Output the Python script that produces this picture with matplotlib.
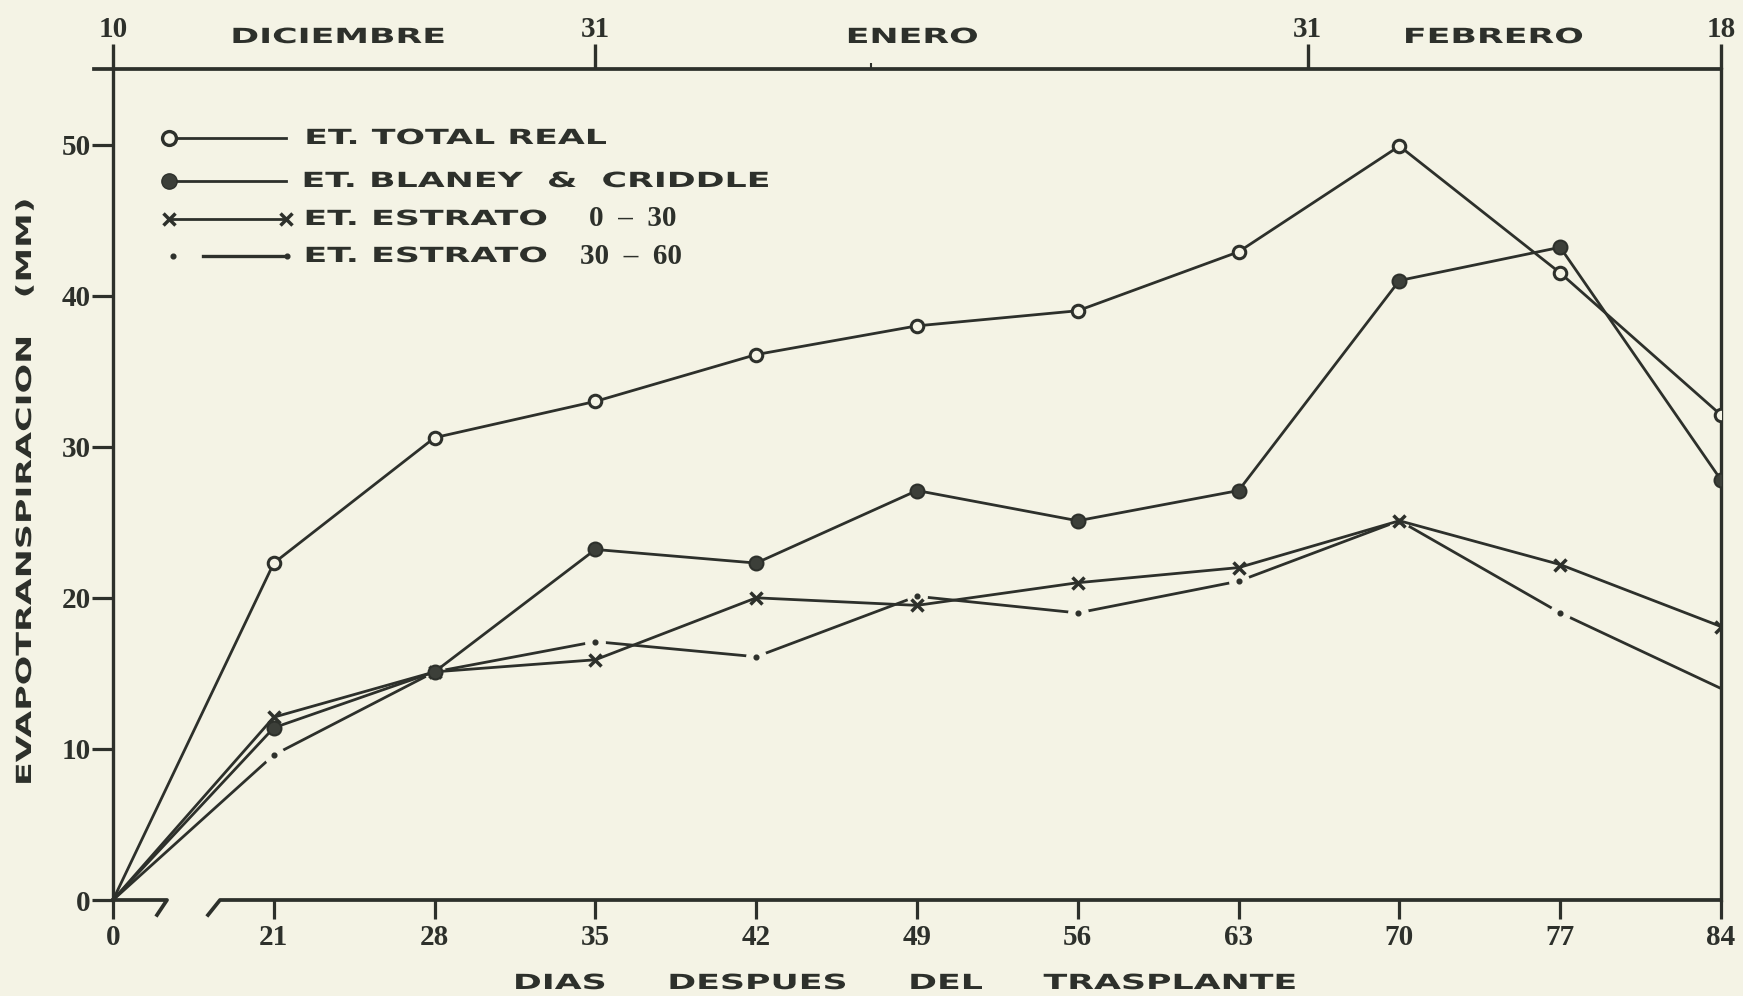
import matplotlib
matplotlib.use("Agg")
import matplotlib.pyplot as plt
from matplotlib import patheffects
from matplotlib.transforms import Affine2D
from matplotlib.lines import Line2D

# ---- data -------------------------------------------------------------
dias = [0, 21, 28, 35, 42, 49, 56, 63, 70, 77, 84]
et_total_real = [0, 22.3, 30.6, 33.0, 36.1, 38.0, 39.0, 42.9, 49.9, 41.5, 32.1]
et_blaney_criddle = [0, 11.4, 15.1, 23.2, 22.3, 27.1, 25.1, 27.1, 41.0, 43.2, 27.8]
et_estrato_0_30 = [0, 12.1, 15.1, 15.9, 20.0, 19.5, 21.0, 22.0, 25.1, 22.2, 18.1]
et_estrato_30_60 = [0, 9.6, 15.1, 17.1, 16.1, 20.1, 19.0, 21.1, 25.1, 19.0, 14.0]
y_ticks = [0, 10, 20, 30, 40, 50]

# calendar axis: days counted from 10 December
fecha_dias = [0, 21, 52, 70]
fecha_labels = ["10", "31", "31", "18"]
meses = ["DICIEMBRE", "ENERO", "FEBRERO"]
meses_pos = [9.8, 34.8, 60.1]

W, H = 1743, 996
BG = "#f4f3e5"
INK = "#2d302b"
SANS = "DejaVu Sans"
SERIF = "Liberation Serif"


class HStretch(patheffects.AbstractPathEffect):
    """Widen glyphs along the baseline, about the centre of the string."""

    def __init__(self, sx):
        super().__init__()
        self.sx = sx

    def draw_path(self, renderer, gc, tpath, affine, rgbFace=None):
        ext = tpath.get_extents()
        cx = 0.5 * (ext.x0 + ext.x1)
        t = Affine2D().translate(-cx, 0).scale(self.sx, 1).translate(cx, 0) + affine
        renderer.draw_path(gc, tpath, t, rgbFace)


WIDE = [HStretch(1.67)]
SANS_SIZE = 15
NUM_SIZE = 21

fig = plt.figure(figsize=(W / 100, H / 100), dpi=100)
fig.patch.set_facecolor(BG)

ax = fig.add_axes([113 / W, 1 - 900 / H, 1608 / W, 831 / H])
ax.set_facecolor(BG)
x = list(range(len(dias)))
ax.set_xlim(0, len(dias) - 1)
ax.set_ylim(0, 55)

# series
ax.plot(x, et_estrato_30_60, color=INK, lw=2.0, zorder=2, solid_capstyle="butt")
ax.plot(x[1:-1], et_estrato_30_60[1:-1], ls="none", marker="o", ms=15,
        mfc=BG, mec="none", zorder=2.1)
ax.plot(x[1:-1], et_estrato_30_60[1:-1], ls="none", marker="o", ms=3.4,
        color=INK, zorder=2.2)
ax.plot(x, et_estrato_0_30, color=INK, lw=2.0, marker="x", ms=9, mew=2.5,
        markevery=list(range(1, len(x))), zorder=3)
ax.plot(x, et_blaney_criddle, color=INK, lw=2.0, marker="o", ms=10,
        mfc="#3c3f39", mec=INK, mew=1.5, markevery=list(range(1, len(x))), zorder=4)
ax.plot(x, et_total_real, color=INK, lw=2.0, marker="o", ms=9,
        mfc=BG, mec=INK, mew=2.2, markevery=list(range(1, len(x))), zorder=5)

# axes frame
for s in ("top", "bottom"):
    ax.spines[s].set_visible(False)
for s in ("left", "right"):
    ax.spines[s].set_linewidth(2.4)
    ax.spines[s].set_color(INK)

tr = ax.transAxes
px_x, px_y = 1 / 1608, 1 / 831
# top rule, running a little past the left axis
ax.add_line(Line2D([-19 * px_x, 1], [1, 1], transform=tr, color=INK, lw=2.7,
                   clip_on=False, zorder=6))
# broken bottom rule
b1 = (167 - 113) * px_x
b2 = (220 - 113) * px_x
ax.add_line(Line2D([0, b1, b1 - 10 * px_x], [0, 0, -15 * px_y], transform=tr,
                   color=INK, lw=2.7, clip_on=False, zorder=6))
ax.add_line(Line2D([b2 - 12 * px_x, b2, 1], [-15 * px_y, 0, 0], transform=tr,
                   color=INK, lw=2.7, clip_on=False, zorder=6))

ax.set_xticks(x, [str(d) for d in dias])
ax.set_yticks(y_ticks, [str(v) for v in y_ticks])
ax.tick_params(axis="x", direction="out", length=14, width=2.3, pad=3,
               labelsize=NUM_SIZE, colors=INK)
ax.tick_params(axis="y", direction="out", length=15, width=2.3, pad=1,
               labelsize=NUM_SIZE, colors=INK)
for lbl in ax.get_xticklabels() + ax.get_yticklabels():
    lbl.set_fontfamily(SERIF)
    lbl.set_fontweight("bold")

# calendar axis on top
ax2 = ax.twiny()
ax2.set_xlim(0, 70)
for s in ax2.spines.values():
    s.set_visible(False)
ax2.patch.set_visible(False)
ax2.set_xticks(fecha_dias, fecha_labels)
ax2.set_xticks([33], minor=True)
ax2.tick_params(axis="x", which="major", direction="out", length=18, width=2.4,
                pad=1, labelsize=NUM_SIZE, colors=INK)
ax2.tick_params(axis="x", which="minor", direction="out", length=4, width=1.5,
                colors=INK)
for lbl in ax2.get_xticklabels():
    lbl.set_fontfamily(SERIF)
    lbl.set_fontweight("bold")
for mes, pos in zip(meses, meses_pos):
    ax2.text(pos, (900 - 37) * px_y, mes, transform=ax2.get_xaxis_transform(),
             ha="center", va="center", fontsize=SANS_SIZE, fontweight="bold",
             fontfamily=SANS, color=INK, path_effects=WIDE)

# legend
rows = [(900 - 138) * px_y, (900 - 181) * px_y, (900 - 219) * px_y, (900 - 256) * px_y]
lx0, lx1 = (169 - 113) * px_x, (286 - 113) * px_x
ax.add_line(Line2D([lx0, lx1], [rows[0]] * 2, transform=tr, color=INK, lw=2.0,
                   marker="o", ms=10, mfc=BG, mec=INK, mew=2.4, markevery=[0],
                   clip_on=False, zorder=6))
ax.add_line(Line2D([lx0, lx1], [rows[1]] * 2, transform=tr, color=INK, lw=2.0,
                   marker="o", ms=11, mfc="#3c3f39", mec=INK, markevery=[0],
                   clip_on=False, zorder=6))
ax.add_line(Line2D([lx0, lx1], [rows[2]] * 2, transform=tr, color=INK, lw=2.0,
                   marker="x", ms=9, mew=2.5, clip_on=False, zorder=6))
ax.add_line(Line2D([(203 - 113) * px_x, (283 - 113) * px_x], [rows[3]] * 2,
                   transform=tr, color=INK, lw=2.4, clip_on=False, zorder=6))
ax.add_line(Line2D([(173 - 113) * px_x, (287 - 113) * px_x], [rows[3]] * 2,
                   transform=tr, ls="none", marker="o", ms=3.4, color=INK,
                   clip_on=False, zorder=6))

leg_text = ["ET. TOTAL REAL", "ET. BLANEY  &  CRIDDLE", "ET. ESTRATO", "ET. ESTRATO"]
leg_cx = [456, 536, 426, 426]
for txt, cx, ry in zip(leg_text, leg_cx, rows):
    ax.text((cx - 113) * px_x, ry, txt, transform=tr, ha="center", va="center",
            fontsize=SANS_SIZE, fontweight="bold", fontfamily=SANS, color=INK,
            path_effects=WIDE)
for txt, cx, ry in zip(["0  \u2013  30", "30  \u2013  60"], [633, 631], rows[2:]):
    ax.text((cx - 113) * px_x, ry, txt, transform=tr, ha="center", va="center",
            fontsize=NUM_SIZE, fontweight="bold", fontfamily=SERIF, color=INK)

# axis titles
fig.text(905 / W, 1 - 983 / H, "DIAS     DESPUES     DEL     TRASPLANTE",
         ha="center", va="center", fontsize=SANS_SIZE, fontweight="bold",
         fontfamily=SANS, color=INK, path_effects=WIDE)
fig.text(25 / W, 1 - 492 / H, "EVAPOTRANSPIRACION   (MM)", rotation=90,
         ha="center", va="center", fontsize=SANS_SIZE, fontweight="bold",
         fontfamily=SANS, color=INK, path_effects=WIDE)

fig.savefig("out.png", dpi=100, facecolor=BG)
